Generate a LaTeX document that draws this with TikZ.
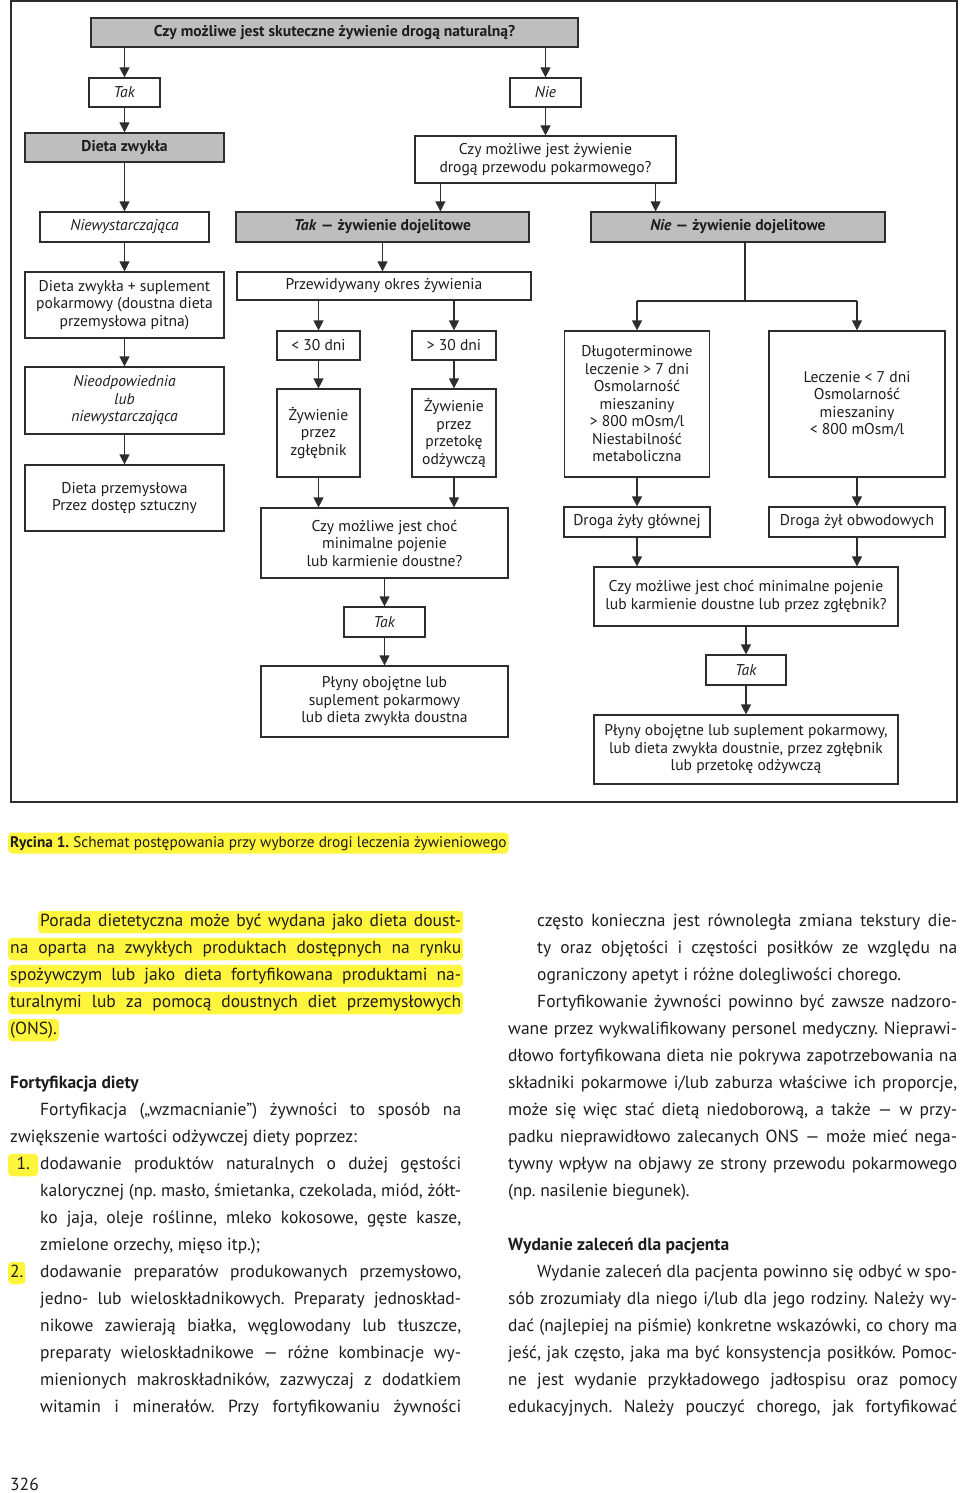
\documentclass[tikz,border=0pt]{standalone}
\usepackage{fontspec}
\setmainfont{PT Sans}
\usepackage{graphicx}
\usepackage{xcolor}
\usetikzlibrary{arrows.meta,calc}
\frenchspacing

\definecolor{boxgrey}{RGB}{190,190,190}
\definecolor{linec}{RGB}{45,45,45}
\definecolor{hl}{RGB}{255,245,60}
\definecolor{ink}{RGB}{30,28,28}

\newcommand{\boxfont}{\fontsize{15.6}{17.5}\selectfont}
\newcommand{\bodyfont}{\fontsize{17.5}{27}\selectfont}
\newcommand{\capfont}{\fontsize{15.3}{18}\selectfont}
% one justified line of the page text
\newcommand{\jline}[2]{\sbox0{#2}\ifdim\wd0>#1\relax\resizebox{#1}{\height}{#2}\else\makebox[#1][s]{#2}\fi}

\begin{document}
\begin{tikzpicture}[x=1pt, y=-1pt,
  box/.style={draw=linec, line width=1.2pt, inner sep=0pt, align=center, font=\boxfont, text=ink},
  grey box/.style={box, fill=boxgrey, font=\boxfont\bfseries},
  wh/.style 2 args={minimum width=#1, minimum height=#2},
  flow/.style={draw=linec, line width=1.2pt, -{Triangle[width=10pt,length=10pt]}},
  txt/.style={anchor=west, inner sep=0pt, text height=13pt, text depth=4.5pt, font=\bodyfont, text=ink},
  hl line/.style={txt, fill=hl, rounded corners=4pt, inner xsep=2pt, inner ysep=2.5pt}]
\useasboundingbox (0,0) rectangle (960,1493);

% flowchart
\node[grey box, wh={487}{29}] (natural) at (334.5,32.5) {Czy możliwe jest skuteczne żywienie drogą naturalną?};
\node[box, wh={71}{29}] (tak1) at (124.5,92.5) {\textit{Tak}};
\node[box, wh={71}{29}] (nie1) at (545.5,92.5) {\textit{Nie}};
\node[grey box, wh={199}{29}] (zwykla) at (124.5,147.5) {Dieta zwykła};
\node[box, wh={261}{47}] (przewod) at (545.5,159.5) {Czy możliwe jest żywienie\\drogą przewodu pokarmowego?};
\node[box, wh={169}{30}] (niewyst) at (124.5,227) {\textit{Niewystarczająca}};
\node[grey box, wh={293}{30}] (takdoj) at (382.5,227) {\textit{Tak} — żywienie dojelitowe};
\node[grey box, wh={294}{30}] (niedoj) at (738,227) {\textit{Nie} — żywienie dojelitowe};

\node[box, wh={199}{66}] (suplement) at (124.5,305) {Dieta zwykła + suplement\\pokarmowy (doustna dieta\\przemysłowa pitna)};
\node[box, wh={199}{67}] (nieodp) at (124.5,400.5) {\textit{Nieodpowiednia}\\\textit{lub}\\\textit{niewystarczająca}};
\node[box, wh={199}{66}] (sztuczny) at (124.5,498) {Dieta przemysłowa\\Przez dostęp sztuczny};

\node[box, wh={294}{28}] (okres) at (384,286) {Przewidywany okres żywienia};
\node[box, wh={83}{29}] (krotko) at (318.5,345.5) {< 30 dni};
\node[box, wh={84}{29}] (dlugo) at (454,345.5) {> 30 dni};
\node[box, wh={83}{88}] (zglebnik) at (318.5,433) {Żywienie\\przez\\zgłębnik};
\node[box, wh={84}{88}] (przetoka) at (454,433) {Żywienie\\przez\\przetokę\\odżywczą};
\node[box, wh={247}{70}] (pojenie) at (384.5,543) {Czy możliwe jest choć\\minimalne pojenie\\lub karmienie doustne?};
\node[box, wh={81}{30}] (tak2) at (384.5,622) {\textit{Tak}};
\node[box, wh={247}{71}] (plyny) at (384.5,701.5) {Płyny obojętne lub\\suplement pokarmowy\\lub dieta zwykła doustna};

\node[box, wh={145}{146}] (centralne) at (637,404) {Długoterminowe\\leczenie > 7 dni\\Osmolarność\\mieszaniny\\> 800 mOsm/l\\Niestabilność\\metaboliczna};
\node[box, wh={176}{146}] (obwodowe) at (857,404) {Leczenie < 7 dni\\Osmolarność\\mieszaniny\\< 800 mOsm/l};
\node[box, wh={146}{30}] (zylaglowna) at (637,522) {Droga żyły głównej};
\node[box, wh={176}{30}] (zylyobw) at (857,522) {Droga żył obwodowych};
\node[box, wh={304}{59}] (pojenie2) at (746,596.5) {Czy możliwe jest choć minimalne pojenie\\lub karmienie doustne lub przez zgłębnik?};
\node[box, wh={80}{30}] (tak3) at (746,670) {\textit{Tak}};
\node[box, wh={304}{69}] (plyny2) at (746,749.5) {Płyny obojętne lub suplement pokarmowy,\\lub dieta zwykła doustnie, przez zgłębnik\\lub przetokę odżywczą};

\draw[flow] (natural.south -| tak1) -- (tak1.north);
\draw[flow] (natural.south -| nie1) -- (nie1.north);
\draw[flow] (tak1) -- (zwykla);
\draw[flow] (nie1) -- (przewod);
\draw[flow] (zwykla) -- (niewyst);
\draw[flow] ([xshift=26]przewod.south west) -- ([xshift=26]przewod.south west |- takdoj.north);
\draw[flow] ([xshift=-21]przewod.south east) -- ([xshift=-21]przewod.south east |- niedoj.north);
\draw[flow] (niewyst) -- (suplement);
\draw[flow] (suplement) -- (nieodp);
\draw[flow] (nieodp) -- (sztuczny);
\draw[flow] (takdoj.south) -- (takdoj.south |- okres.north);
\draw[flow] (okres.south -| krotko) -- (krotko.north);
\draw[flow] (okres.south -| dlugo) -- (dlugo.north);
\draw[flow] (krotko) -- (zglebnik);
\draw[flow] (dlugo) -- (przetoka);
\draw[flow] (zglebnik.south) -- (zglebnik.south |- pojenie.north);
\draw[flow] (przetoka.south) -- (przetoka.south |- pojenie.north);
\draw[flow] (pojenie) -- (tak2);
\draw[flow] (tak2) -- (plyny);
\coordinate (rozwidlenie) at (745,301);
\draw[linec, line width=1.2pt] (niedoj.south -| rozwidlenie) -- (rozwidlenie)
  (rozwidlenie -| centralne) -- (rozwidlenie -| obwodowe);
\draw[flow] (rozwidlenie -| centralne) -- (centralne.north);
\draw[flow] (rozwidlenie -| obwodowe) -- (obwodowe.north);
\draw[flow] (centralne) -- (zylaglowna);
\draw[flow] (obwodowe) -- (zylyobw);
\draw[flow] (zylaglowna.south) -- (zylaglowna.south |- pojenie2.north);
\draw[flow] (zylyobw.south) -- (zylyobw.south |- pojenie2.north);
\draw[flow] (pojenie2) -- (tak3);
\draw[flow] (tak3) -- (plyny2);

\draw[linec, line width=1.4pt] (11,1) rectangle (957,802);

% caption
\node[hl line, font=\capfont, text height=12pt, text depth=4pt] (rycina) at (8,843) {\textbf{Rycina 1.} Schemat postępowania przy wyborze drogi leczenia żywieniowego};

% left column
\node[hl line] (l1) at (38,922) {\jline{421pt}{Porada dietetyczna może być wydana jako dieta doust-}};
\node[hl line] (l2) at (8,949) {\jline{451pt}{na oparta na zwykłych produktach dostępnych na rynku}};
\node[hl line] (l3) at (8,976) {\jline{451pt}{spożywczym lub jako dieta fortyfikowana produktami na-}};
\node[hl line] (l4) at (8,1003) {\jline{451pt}{turalnymi lub za pomocą doustnych diet przemysłowych}};
\node[hl line] (l5) at (8,1030) {(ONS).};
\node[txt] (l6) at (10,1084) {\textbf{Fortyfikacja diety}};
\node[txt] (l7) at (40,1111) {\jline{421pt}{Fortyfikacja („wzmacnianie”) żywności to sposób na}};
\node[txt] (l8) at (10,1138) {zwiększenie wartości odżywczej diety poprzez:};
\node[hl line, minimum width=30pt, align=left] (n1) at (8,1165) {1.};
\node[txt] (l9) at (40,1165) {\jline{421pt}{dodawanie produktów naturalnych o dużej gęstości}};
\node[txt] (l10) at (40,1192) {\jline{421pt}{kalorycznej (np. masło, śmietanka, czekolada, miód, żółt-}};
\node[txt] (l11) at (40,1219) {\jline{421pt}{ko jaja, oleje roślinne, mleko kokosowe, gęste kasze,}};
\node[txt] (l12) at (40,1246) {zmielone orzechy, mięso itp.);};
\node[hl line] (n2) at (8,1273) {2.};
\node[txt] (l13) at (40,1273) {\jline{421pt}{dodawanie preparatów produkowanych przemysłowo,}};
\node[txt] (l14) at (40,1300) {\jline{421pt}{jedno- lub wieloskładnikowych. Preparaty jednoskład-}};
\node[txt] (l15) at (40,1327) {\jline{421pt}{nikowe zawierają białka, węglowodany lub tłuszcze,}};
\node[txt] (l16) at (40,1354) {\jline{421pt}{preparaty wieloskładnikowe — różne kombinacje wy-}};
\node[txt] (l17) at (40,1381) {\jline{421pt}{mienionych makroskładników, zazwyczaj z dodatkiem}};
\node[txt] (l18) at (40,1408) {\jline{421pt}{witamin i minerałów. Przy fortyfikowaniu żywności}};

% right column
\node[txt] (r1) at (537,922) {\jline{420pt}{często konieczna jest równoległa zmiana tekstury die-}};
\node[txt] (r2) at (537,949) {\jline{420pt}{ty oraz objętości i częstości posiłków ze względu na}};
\node[txt] (r3) at (537,976) {ograniczony apetyt i różne dolegliwości chorego.};
\node[txt] (r4) at (537,1003) {\jline{420pt}{Fortyfikowanie żywności powinno być zawsze nadzoro-}};
\node[txt] (r5) at (508,1030) {\jline{449pt}{wane przez wykwalifikowany personel medyczny. Nieprawi-}};
\node[txt] (r6) at (508,1057) {\jline{449pt}{dłowo fortyfikowana dieta nie pokrywa zapotrzebowania na}};
\node[txt] (r7) at (508,1084) {\jline{449pt}{składniki pokarmowe i/lub zaburza właściwe ich proporcje,}};
\node[txt] (r8) at (508,1111) {\jline{449pt}{może się więc stać dietą niedoborową, a także — w przy-}};
\node[txt] (r9) at (508,1138) {\jline{449pt}{padku nieprawidłowo zalecanych ONS — może mieć nega-}};
\node[txt] (r10) at (508,1165) {\jline{449pt}{tywny wpływ na objawy ze strony przewodu pokarmowego}};
\node[txt] (r11) at (508,1192) {(np. nasilenie biegunek).};
\node[txt] (r12) at (508,1246) {\textbf{Wydanie zaleceń dla pacjenta}};
\node[txt] (r13) at (537,1273) {\jline{420pt}{Wydanie zaleceń dla pacjenta powinno się odbyć w spo-}};
\node[txt] (r14) at (508,1300) {\jline{449pt}{sób zrozumiały dla niego i/lub dla jego rodziny. Należy wy-}};
\node[txt] (r15) at (508,1327) {\jline{449pt}{dać (najlepiej na piśmie) konkretne wskazówki, co chory ma}};
\node[txt] (r16) at (508,1354) {\jline{449pt}{jeść, jak często, jaka ma być konsystencja posiłków. Pomoc-}};
\node[txt] (r17) at (508,1381) {\jline{449pt}{ne jest wydanie przykładowego jadłospisu oraz pomocy}};
\node[txt] (r18) at (508,1408) {\jline{449pt}{edukacyjnych. Należy pouczyć chorego, jak fortyfikować}};

\node[txt] (strona) at (10,1486) {326};
\end{tikzpicture}
\end{document}
